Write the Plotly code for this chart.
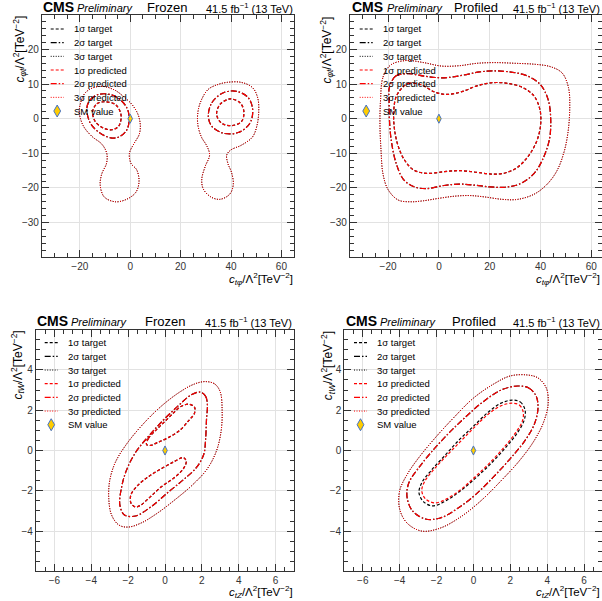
import plotly.graph_objects as go

W, H = 602, 601
FONT = "Liberation Sans, Arial, Helvetica, sans-serif"

# ---------------- data ----------------
# Top row, "Frozen": x = c_tphi, y = c_phit  (two islands per level)
TF_1S_A_X = [-14.9, -13.2, -9.9, -5.9, -4.0, -3.6, -4.6, -7.2, -10.6, -13.9]
TF_1S_A_Y = [2.1, 4.3, 4.9, 4.1, 2.1, 0.2, -2.2, -3.2, -2.7, -0.8]
TF_1S_B_X = [34.3, 35.6, 39.6, 43.6, 45.1, 44.2, 40.3, 36.3]
TF_1S_B_Y = [1.2, 4.1, 5.7, 4.6, 2.1, -0.8, -2.0, -1.3]
TF_2S_A_X = [-17.2, -15.8, -12.6, -7.9, -4.0, -1.3, -0.4, -1.3, -4.0, -7.2, -11.9, -15.8]
TF_2S_A_Y = [3.1, 5.5, 7.0, 7.0, 5.5, 3.1, 0.2, -3.2, -5.1, -5.6, -4.2, -1.3]
TF_2S_B_X = [31.0, 32.4, 37.0, 42.3, 46.9, 48.6, 47.5, 42.9, 37.0, 32.4]
TF_2S_B_Y = [0.7, 4.6, 7.5, 7.9, 6.0, 2.6, -1.3, -4.0, -4.2, -2.2]
TF_3S_A_X = [-17.8, -14.5, -10.5, -6.0, -2.5, 0.7, 3.0, 4.0, 3.6, 1.5, -0.3, 0.3, 2.6, 3.5,
             2.2, -1.5, -5.9, -10.3, -11.9, -11.3, -9.4, -9.3, -11.2, -15.2, -18.5, -20.2, -19.5]
TF_3S_A_Y = [7.5, 9.0, 9.3, 8.2, 6.3, 4.1, 1.4, -1.7, -4.5, -7.2, -10.0, -12.9, -14.8, -18.2,
             -21.3, -23.3, -24.0, -22.6, -19.2, -16.0, -12.9, -10.0, -7.4, -5.1, -2.2, 1.7, 5.0]
TF_3S_B_X = [31.0, 34.5, 38.5, 44.0, 48.5, 50.6, 51.0, 50.3, 48.5, 44.0, 40.0, 38.3, 38.8, 40.2,
             40.9, 39.5, 35.5, 31.8, 29.0, 28.4, 29.7, 31.5, 30.5, 28.2, 26.8, 27.0, 28.5]
TF_3S_B_Y = [8.5, 9.8, 10.5, 10.5, 9.0, 6.0, 2.0, -2.0, -5.3, -7.7, -9.0, -10.5, -13.0, -15.5,
             -19.0, -21.8, -23.3, -22.5, -20.3, -17.5, -13.9, -10.5, -8.0, -5.2, -1.5, 2.5, 5.8]

# Top row, "Profiled"
TP_1S_X = [-15, -12, -7, -2, 3, 9, 15, 21, 27, 33, 37.5, 39.8, 40, 38.5, 35.5, 31, 26, 21, 15,
           8.5, 2, -5, -10, -13.5, -16, -17.5, -17.8, -17]
TP_1S_Y = [8.5, 10.2, 9.8, 7.8, 7.0, 7.8, 9.5, 10.4, 10.2, 9.0, 6.5, 2.5, -2, -6.5, -10.5, -14,
           -15.7, -16, -15.5, -15.0, -15.3, -15.8, -14.8, -12, -8, -3, 2, 6]
TP_2S_X = [-19.5, -17, -12, -5, 2, 9, 16, 22, 29, 35, 40, 43, 44, 43.5, 41, 37.5, 32, 26, 20,
           14, 8, 2, -5, -10, -14, -17, -18.8, -19.5, -19.6]
TP_2S_Y = [9, 12.3, 13, 12.2, 11.8, 12.5, 13.5, 13.8, 13.4, 12.3, 9.8, 5.5, 0, -6, -11.5, -15.8,
           -18.8, -19.8, -19.7, -19.2, -18.9, -19.3, -20.2, -19.6, -17.5, -12.5, -6, 0, 5]
TP_3S_X = [-23, -22, -19, -13, -6, 1, 8, 15, 22, 30, 38, 44, 48.5, 51, 51.5, 50.8, 49.3, 46.5,
           42.5, 37.5, 31, 25, 18, 12, 6, 0, -6, -11, -16, -20, -22, -22.8, -23.2]
TP_3S_Y = [5, 12, 15.5, 16.8, 16.2, 15.2, 15.3, 16.0, 16.2, 16.0, 15.7, 15.0, 13.2, 9, 3, -4,
           -9.5, -15, -19, -21.8, -23.3, -23.3, -22.6, -22.2, -22.4, -23.0, -23.7, -24.0, -23.5,
           -20.5, -16, -9, -2]

# Bottom row, "Frozen": x = c_tZ, y = c_tW
BF_1S_A_X = [-1.0, -0.9, -0.5, 0.0, 0.5, 0.9, 1.3, 1.6, 1.6, 1.3, 0.8, 0.2, -0.4, -0.8]
BF_1S_A_Y = [0.3, 0.6, 1.0, 1.45, 1.9, 2.2, 2.3, 2.15, 1.85, 1.5, 1.0, 0.65, 0.4, 0.25]
BF_1S_B_X = [1.0, 1.15, 1.0, 0.5, -0.2, -0.8, -1.3, -1.6, -1.85, -1.85, -1.5, -0.9, -0.2, 0.5]
BF_1S_B_Y = [-0.35, -0.55, -0.9, -1.35, -1.8, -2.3, -2.7, -2.8, -2.6, -2.2, -1.75, -1.3, -0.9, -0.55]
BF_2S_X = [1.9, 2.2, 2.3, 2.25, 2.2, 2.1, 1.7, 1.0, 0.2, -0.7, -1.6, -2.2, -2.45, -2.35, -2.1,
           -1.6, -0.9, -0.1, 0.7, 1.4]
BF_2S_Y = [2.9, 2.7, 2.3, 1.5, 0.5, -0.2, -0.85, -1.45, -2.05, -2.75, -3.25, -3.2, -2.7, -1.8,
           -1.0, -0.1, 0.7, 1.5, 2.2, 2.75]
BF_3S_X = [2.2, 2.7, 3.0, 3.1, 3.05, 2.8, 2.3, 1.5, 0.6, -0.4, -1.3, -2.0, -2.5, -2.9, -3.05,
           -3.0, -2.7, -2.1, -1.2, -0.2, 0.8, 1.6]
BF_3S_Y = [3.42, 3.3, 2.9, 2.0, 1.0, 0.0, -0.9, -1.7, -2.4, -3.1, -3.6, -3.8, -3.7, -3.2, -2.4,
           -1.5, -0.6, 0.3, 1.3, 2.2, 2.9, 3.3]

# Bottom row, "Profiled" (1 sigma target and predicted differ slightly)
BP_1S_T_X = [2.1, 2.55, 2.8, 2.75, 2.4, 1.8, 1.0, 0.2, -0.7, -1.5, -2.2, -2.7, -2.95, -2.8, -2.3,
             -1.6, -0.8, 0.0, 0.8, 1.5]
BP_1S_T_Y = [2.5, 2.4, 2.0, 1.5, 0.9, 0.2, -0.6, -1.3, -2.0, -2.5, -2.75, -2.55, -2.1, -1.6,
             -1.0, -0.3, 0.5, 1.2, 1.9, 2.35]
BP_1S_P_X = [2.1, 2.5, 2.7, 2.65, 2.3, 1.7, 0.9, 0.1, -0.7, -1.45, -2.1, -2.6, -2.8, -2.65, -2.2,
             -1.5, -0.7, 0.05, 0.8, 1.5]
BP_1S_P_Y = [2.35, 2.25, 1.9, 1.45, 0.9, 0.2, -0.6, -1.3, -1.95, -2.4, -2.6, -2.4, -2.0, -1.55,
             -1.0, -0.3, 0.45, 1.15, 1.8, 2.22]
BP_2S_X = [2.4, 3.0, 3.4, 3.5, 3.3, 2.8, 2.0, 1.1, 0.1, -0.9, -1.8, -2.6, -3.3, -3.6, -3.5, -3.0,
           -2.3, -1.4, -0.5, 0.5, 1.5]
BP_2S_Y = [3.2, 3.1, 2.7, 2.1, 1.3, 0.5, -0.4, -1.3, -2.2, -2.9, -3.35, -3.4, -3.0, -2.3, -1.6,
           -0.9, -0.1, 0.8, 1.6, 2.4, 3.0]
BP_3S_X = [2.9, 3.5, 3.95, 4.05, 3.8, 3.3, 2.5, 1.5, 0.4, -0.7, -1.8, -2.8, -3.6, -4.0, -4.0,
           -3.6, -3.0, -2.1, -1.1, 0.0, 1.1, 2.0]
BP_3S_Y = [3.75, 3.6, 3.1, 2.3, 1.4, 0.5, -0.5, -1.5, -2.5, -3.3, -3.85, -4.0, -3.6, -2.9, -2.0,
           -1.2, -0.4, 0.6, 1.6, 2.6, 3.3, 3.7]

SM_X = [0.0]
SM_Y = [0.0]

LEGEND_LABELS = ["1σ target", "2σ target", "3σ target",
                 "1σ predicted", "2σ predicted", "3σ predicted", "SM value"]
PANEL_TITLES = ["Frozen", "Profiled", "Frozen", "Profiled"]
LUMI_TEXT = "41.5 fb<sup>−1</sup> (13 TeV)"
X_TITLES = ["<i>c</i><sub><i>tφ</i></sub>/Λ<sup>2</sup>[TeV<sup>−2</sup>]"] * 2 + \
           ["<i>c</i><sub><i>tZ</i></sub>/Λ<sup>2</sup>[TeV<sup>−2</sup>]"] * 2
Y_TITLES = ["<i>c</i><sub><i>φt</i></sub>/Λ<sup>2</sup>[TeV<sup>−2</sup>]"] * 2 + \
           ["<i>c</i><sub><i>tW</i></sub>/Λ<sup>2</sup>[TeV<sup>−2</sup>]"] * 2

# ---------------- contour sets per panel ----------------
PANEL_DATA = [
    {  # top-left
        "target": {1: [(TF_1S_A_X, TF_1S_A_Y), (TF_1S_B_X, TF_1S_B_Y)],
                   2: [(TF_2S_A_X, TF_2S_A_Y), (TF_2S_B_X, TF_2S_B_Y)],
                   3: [(TF_3S_A_X, TF_3S_A_Y), (TF_3S_B_X, TF_3S_B_Y)]},
        "pred": {1: [(TF_1S_A_X, TF_1S_A_Y), (TF_1S_B_X, TF_1S_B_Y)],
                 2: [(TF_2S_A_X, TF_2S_A_Y), (TF_2S_B_X, TF_2S_B_Y)],
                 3: [(TF_3S_A_X, TF_3S_A_Y), (TF_3S_B_X, TF_3S_B_Y)]},
    },
    {  # top-right
        "target": {1: [(TP_1S_X, TP_1S_Y)], 2: [(TP_2S_X, TP_2S_Y)], 3: [(TP_3S_X, TP_3S_Y)]},
        "pred": {1: [(TP_1S_X, TP_1S_Y)], 2: [(TP_2S_X, TP_2S_Y)], 3: [(TP_3S_X, TP_3S_Y)]},
    },
    {  # bottom-left
        "target": {1: [(BF_1S_A_X, BF_1S_A_Y), (BF_1S_B_X, BF_1S_B_Y)],
                   2: [(BF_2S_X, BF_2S_Y)], 3: [(BF_3S_X, BF_3S_Y)]},
        "pred": {1: [(BF_1S_A_X, BF_1S_A_Y), (BF_1S_B_X, BF_1S_B_Y)],
                 2: [(BF_2S_X, BF_2S_Y)], 3: [(BF_3S_X, BF_3S_Y)]},
    },
    {  # bottom-right
        "target": {1: [(BP_1S_T_X, BP_1S_T_Y)], 2: [(BP_2S_X, BP_2S_Y)], 3: [(BP_3S_X, BP_3S_Y)]},
        "pred": {1: [(BP_1S_P_X, BP_1S_P_Y)], 2: [(BP_2S_X, BP_2S_Y)], 3: [(BP_3S_X, BP_3S_Y)]},
    },
]

# ---------------- styles / layout geometry ----------------
DASH = {1: "3px,2px", 2: "6px,2px,1.5px,2px", 3: "1px,1.5px"}
WIDTH = {1: 1.2, 2: 1.2, 3: 1.0}
TARGET_COLOR = "#000000"
PRED_COLOR = "#ff0000"
SM_FILL = "#ffcc00"
SM_LINE = "#4472c4"

# pixel boxes of the four frames (left, right, top, bottom)
BOXES = [(42, 294, 15, 257), (350, 602, 15, 257), (36, 294, 330, 571), (344.3, 602, 330, 571)]
XRANGES = [[-35, 65], [-35, 64.2], [-7, 7], [-7, 6.97]]
YRANGES = [[-39.95, 29.95], [-39.95, 29.95], [-5.98, 5.98], [-5.98, 5.98]]
XDTICK = [20, 20, 2, 2]
XMINOR = [5, 5, 0.5, 0.5]
YDTICK = [10, 10, 2, 2]
YMINOR = [2, 2, 0.5, 0.5]


def closed_join(pieces):
    X, Y = [], []
    for xs, ys in pieces:
        if X:
            X.append(None)
            Y.append(None)
        X += list(xs) + [xs[0]]
        Y += list(ys) + [ys[0]]
    return X, Y


def fx(px):
    return px / W


def fy(py):
    return 1 - py / H


fig = go.Figure()
ax_suffix = ["", "2", "3", "4"]

for i, pdata in enumerate(PANEL_DATA):
    xa = "x" + ax_suffix[i]
    ya = "y" + ax_suffix[i]
    for kind, color in (("target", TARGET_COLOR), ("pred", PRED_COLOR)):
        for lvl in (3, 2, 1):
            X, Y = closed_join(pdata[kind][lvl])
            fig.add_trace(go.Scatter(
                x=X, y=Y, xaxis=xa, yaxis=ya, mode="lines",
                line=dict(color=color, width=WIDTH[lvl], dash=DASH[lvl], shape="spline", smoothing=1.0),
                hoverinfo="skip", showlegend=False))
    fig.add_trace(go.Scatter(
        x=SM_X, y=SM_Y, xaxis=xa, yaxis=ya, mode="markers",
        marker=dict(symbol="diamond-tall", size=6.5, color=SM_FILL, line=dict(color=SM_LINE, width=1)),
        hoverinfo="skip", showlegend=False))

layout = dict(width=W, height=H, margin=dict(l=0, r=0, t=0, b=0),
              paper_bgcolor="white", plot_bgcolor="white", showlegend=False,
              font=dict(family=FONT, color="#222"))

for i in range(4):
    l, r, t, b = BOXES[i]
    common = dict(showline=True, linecolor="#333", linewidth=1.2, mirror="allticks",
                  ticks="inside", ticklen=7, tickwidth=1, tickcolor="#333",
                  showgrid=True, gridcolor="#e2e2e2", gridwidth=1, zeroline=False,
                  tickfont=dict(family=FONT, size=10, color="#333"), tick0=0)
    xa = dict(common, domain=[fx(l), fx(r)], range=XRANGES[i], dtick=XDTICK[i],
              anchor="y" + ax_suffix[i],
              minor=dict(ticks="inside", ticklen=4, tickwidth=1, tickcolor="#333",
                         dtick=XMINOR[i], tick0=0, showgrid=False))
    ya = dict(common, domain=[fy(b), fy(t)], range=YRANGES[i], dtick=YDTICK[i],
              anchor="x" + ax_suffix[i],
              minor=dict(ticks="inside", ticklen=4, tickwidth=1, tickcolor="#333",
                         dtick=YMINOR[i], tick0=0, showgrid=False))
    layout["xaxis" + ax_suffix[i]] = xa
    layout["yaxis" + ax_suffix[i]] = ya

annotations = []
shapes = []

# header / titles geometry: (cms_left, prelim_left, title_center, lumi_right, baseline)
HEADERS = [(42, 76, 167, 293.5, 11.8), (351, 386, 476, 601, 11.8),
           (36, 69.5, 164.5, 293, 325.2), (344.5, 379, 473.5, 601, 325.2)]
XT_POS = [(294, 278.5), (601, 278.5), (294, 592), (601, 592)]
YT_POS = [(20, 15), (327, 15), (17, 330), (327.7, 330)]
LEG_TEXT_X = [72.7, 381.7, 66.7, 376]
LEG_ROW0 = [29, 29, 342.7, 342.7]
ROW_STEP = 13.67

LEG_STYLE = [(TARGET_COLOR, 1), (TARGET_COLOR, 2), (TARGET_COLOR, 3),
             (PRED_COLOR, 1), (PRED_COLOR, 2), (PRED_COLOR, 3)]


def ann(text, px, py, size, xanchor, yanchor="middle", **kw):
    d = dict(text=text, x=fx(px), y=fy(py), xref="paper", yref="paper",
             xanchor=xanchor, yanchor=yanchor, showarrow=False, borderpad=0,
             font=dict(family=FONT, size=size, color=kw.pop("color", "#000")))
    d.update(kw)
    return d


for i in range(4):
    cms_l, pre_l, tc, lumi_r, base = HEADERS[i]
    annotations.append(ann("<b>CMS</b>", cms_l, base - 0.32 * 14, 14, "left"))
    annotations.append(ann("<i>Preliminary</i>", pre_l, base - 0.32 * 11, 11, "left"))
    annotations.append(ann(PANEL_TITLES[i], tc, base - 0.32 * 13, 13, "center"))
    annotations.append(ann(LUMI_TEXT, lumi_r, base - 0.32 * 11, 11, "right"))
    xtx, xty = XT_POS[i]
    annotations.append(ann(X_TITLES[i], xtx, xty, 11.5, "right"))
    ytx, yty = YT_POS[i]
    annotations.append(ann(Y_TITLES[i], ytx, yty, 12, "center", yanchor="top", textangle=-90))

    tx = LEG_TEXT_X[i]
    for k, label in enumerate(LEGEND_LABELS):
        ry = LEG_ROW0[i] + k * ROW_STEP
        annotations.append(ann(label, tx, ry, 9.5, "left"))
        if k < 6:
            col, lvl = LEG_STYLE[k]
            shapes.append(dict(type="line", xref="paper", yref="paper",
                               x0=fx(tx - 22), x1=fx(tx - 9), y0=fy(ry), y1=fy(ry),
                               line=dict(color=col, width=WIDTH[lvl], dash=DASH[lvl])))
        else:
            cx = tx - 15.5
            hw, hh = 3.4, 6.0
            path = "M {} {} L {} {} L {} {} L {} {} Z".format(
                fx(cx), fy(ry - hh), fx(cx + hw), fy(ry), fx(cx), fy(ry + hh), fx(cx - hw), fy(ry))
            shapes.append(dict(type="path", xref="paper", yref="paper", path=path,
                               fillcolor=SM_FILL, line=dict(color=SM_LINE, width=1)))

layout["annotations"] = annotations
layout["shapes"] = shapes
fig.update_layout(**layout)
fig.write_html("out.html", config={"displayModeBar": False},
               post_script="document.body.style.margin='0px';")
